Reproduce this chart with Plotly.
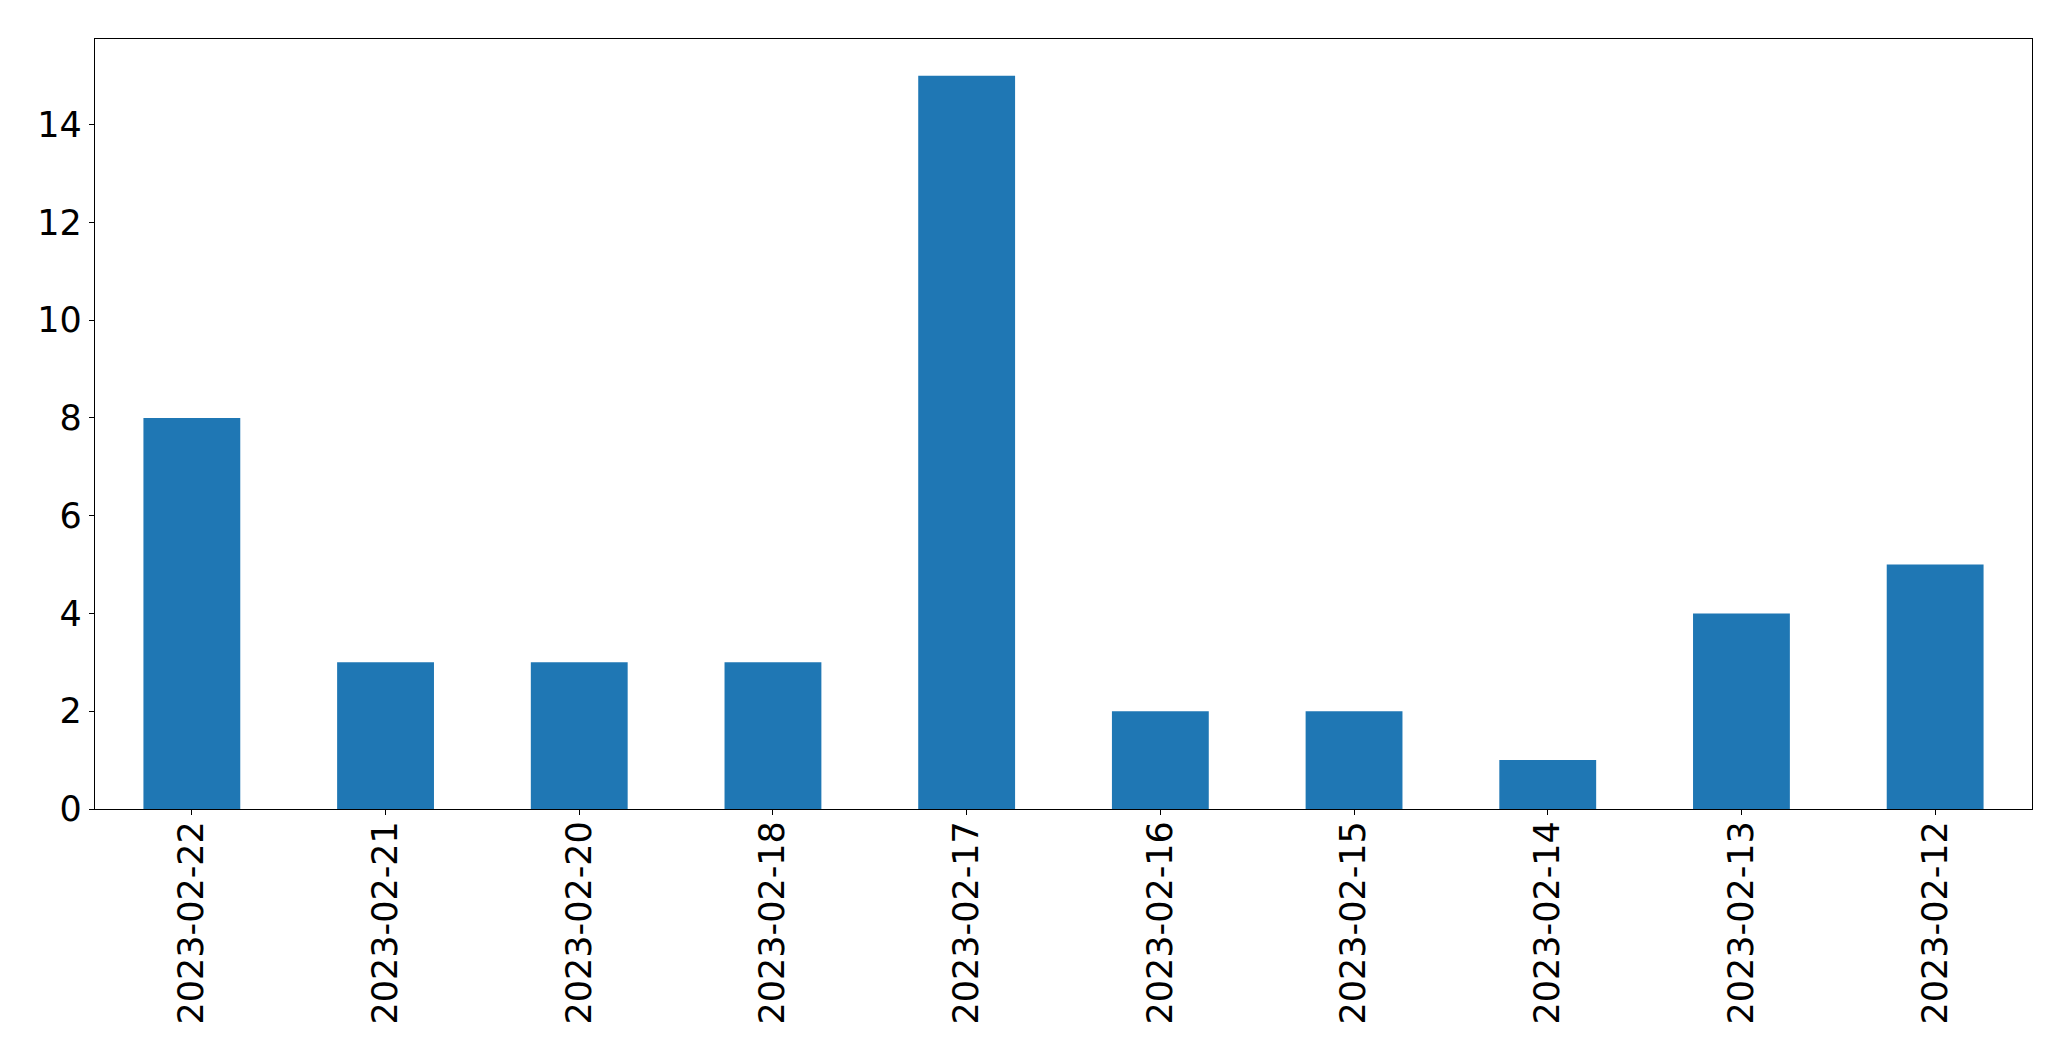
import plotly.graph_objects as go

dates = ["2023-02-22", "2023-02-21", "2023-02-20", "2023-02-18", "2023-02-17",
         "2023-02-16", "2023-02-15", "2023-02-14", "2023-02-13", "2023-02-12"]
counts = [8, 3, 3, 3, 15, 2, 2, 1, 4, 5]
y_ticks = [0, 2, 4, 6, 8, 10, 12, 14]

fig = go.Figure(go.Bar(x=dates, y=counts, width=0.5, marker=dict(color="#1f77b4", line=dict(width=0))))

axis_common = dict(showline=True, linecolor="black", linewidth=1.3, mirror=True,
                   ticks="outside", ticklen=5, tickwidth=1.3, tickcolor="black",
                   showgrid=False, zeroline=False,
                   tickfont=dict(family="DejaVu Sans", size=35, color="black"))

fig.update_layout(
    width=2071, height=1061,
    margin=dict(l=95, r=39, t=39, b=252),
    paper_bgcolor="white", plot_bgcolor="white",
    showlegend=False,
    xaxis=dict(type="category", range=[-0.5, 9.5], tickangle=-90, ticklabelstandoff=-8, **axis_common),
    yaxis=dict(range=[0, 15.75], tickvals=y_ticks, ticktext=[str(v) for v in y_ticks], **axis_common),
)

fig.write_html("out.html")
